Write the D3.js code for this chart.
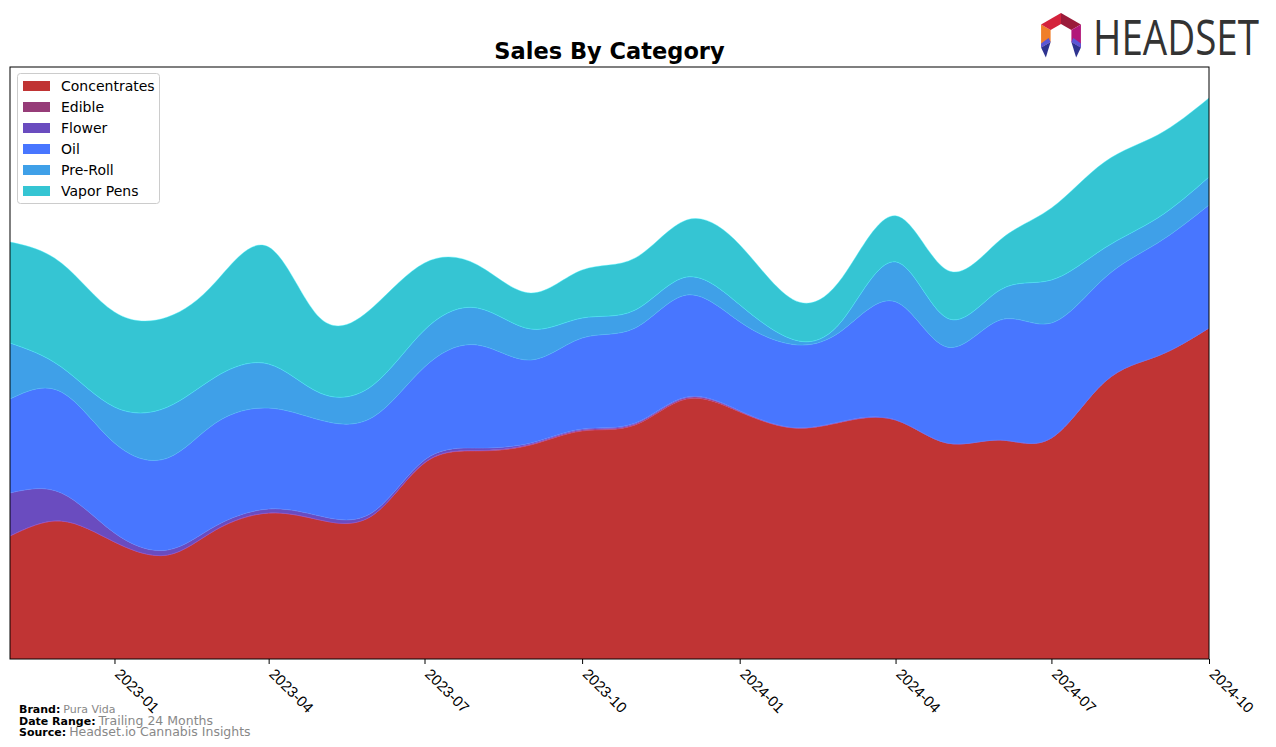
<!DOCTYPE html>
<html><head><meta charset="utf-8">
<script src="https://cdn.jsdelivr.net/npm/d3@7"></script>
<style>body{margin:0;background:#fff;}svg{display:block;font-family:"DejaVu Sans",sans-serif;}</style>
</head><body><svg id="c" width="1276" height="747"></svg>
<script>
const months = ["2022-11","2022-12","2023-01","2023-02","2023-03","2023-04","2023-05","2023-06","2023-07","2023-08","2023-09","2023-10","2023-11","2023-12","2024-01","2024-02","2024-03","2024-04","2024-05","2024-06","2024-07","2024-08","2024-09","2024-10"];
const categories = ["Concentrates","Edible","Flower","Oil","Pre-Roll","Vapor Pens"];
const concentrates = [123,138,117,104,129,146,139,144,196,208,214,228,234,260,247,231,237,239,216,219,221,277,303,331];
const edible = [0,0,0,0,0,0,0,0,0.3,0.5,0.8,1,1,1.2,0.8,0.3,0.5,0,0,0,0,0,0,0];
const flower = [43,28,9,5,4,4,4,3,2.7,2.5,1.2,1,1,0.8,0.5,0.3,0.3,0.2,0,0,0,0,0,0];
const oil = [94,101,90,92,103,101,96,95,93,103,83,91,95,102,89,83,91,118,96,120,115,104,113,123];
const preRoll = [56,25,36,51,46,44,27,32,37,37,31,20,18,18,17,5,10,40,29,30,43,30,25,28];
const vaporPens = [101,104,95,90,95,117,75,78,67,43,36,48,52,57,60,40,43,46,48,50,72,86,83,79];
const tickLabels = ["2023-01","2023-04","2023-07","2023-10","2024-01","2024-04","2024-07","2024-10"];
const colors = ["#c03434","#963c78","#6a4cbf","#4876ff","#3fa0e8","#35c5d3"];

const series = [concentrates, edible, flower, oil, preRoll, vaporPens];
const parse = d3.timeParse("%Y-%m");
const rows = months.map((m,i)=>{const r={date:parse(m)};categories.forEach((c,k)=>r[c]=series[k][i]);return r;});

const svg = d3.select("#c");
const L=10,R=1209,T=67,B=659;
const x = d3.scaleTime().domain([parse(months[0]), parse(months[months.length-1])]).range([L,R]);
const y = d3.scaleLinear().domain([0,592]).range([B,T]);

const stack = d3.stack().keys(categories)(rows);
const area = d3.area().curve(d3.curveNatural)
  .x(d=>x(d.data.date)).y0(d=>y(d[0])).y1(d=>y(d[1]));

const g = svg.append("g");
g.append("clipPath").attr("id","clip").append("rect").attr("x",L).attr("y",T).attr("width",R-L).attr("height",B-T);
g.append("g").attr("clip-path","url(#clip)").selectAll("path").data(stack).join("path")
  .attr("d",area).attr("fill",(d,i)=>colors[i])
  .attr("stroke",(d,i)=>d3.color(colors[i]).brighter(0.6)).attr("stroke-width",0.4);

// frame
svg.append("rect").attr("x",L).attr("y",T).attr("width",R-L).attr("height",B-T)
  .attr("fill","none").attr("stroke","#000").attr("stroke-width",1);

// x axis
const ax = svg.append("g").attr("transform",`translate(0,${B})`)
  .call(d3.axisBottom(x).tickValues(tickLabels.map(parse)).tickFormat(d3.timeFormat("%Y-%m")).tickSizeOuter(0).tickSize(5));
ax.select(".domain").remove();
ax.selectAll("line").attr("stroke","#000");
ax.selectAll("text").attr("font-size","15px").attr("fill","#000")
  .attr("text-anchor","start").attr("dy",null).attr("y",0)
  .attr("transform","translate(7,8) rotate(45)").attr("dominant-baseline","hanging");

// title
svg.append("text").attr("x",(L+R)/2).attr("y",59).attr("text-anchor","middle")
  .attr("font-size","22.5px").attr("font-weight","bold").text("Sales By Category");

// legend
const lg = svg.append("g");
lg.append("rect").attr("x",17.5).attr("y",73.5).attr("width",142).attr("height",130)
  .attr("rx",3).attr("fill","#fff").attr("stroke","#ccc");
categories.forEach((c,i)=>{
  const yy = 86 + i*21;
  lg.append("rect").attr("x",23).attr("y",yy-5).attr("width",27).attr("height",10).attr("fill",colors[i]);
  lg.append("text").attr("x",61).attr("y",yy+5).attr("font-size","14px").text(c);
});

// footer
const ft = [["Brand:","Pura Vida",713,"11px"],["Date Range:","Trailing 24 Months",724.5,"12.5px"],["Source:","Headset.io Cannabis Insights",736,"12.5px"]];
ft.forEach(([a,b,yy,fs])=>{
  const t = svg.append("text").attr("x",19).attr("y",yy).attr("font-size","11px");
  t.append("tspan").attr("font-weight","bold").text(a);
  t.append("tspan").attr("fill","#888").attr("font-size",fs).attr("dx",3).text(b);
});

// logo
const lo = svg.append("g").attr("transform","translate(1061,36)");
const P = k=>{const a=Math.PI/180*(k*60-90);return [Math.cos(a),Math.sin(a)];};
const Ro=23, Ri=12;
const segCols={0:"#9b1b3a",1:"#b2187a",4:"#f07f2a",5:"#d4223c"};
[0,1,4,5].forEach(k=>{
  const p=P(k), q=P(k+1);
  const poly=[[p[0]*Ro,p[1]*Ro],[q[0]*Ro,q[1]*Ro],[q[0]*Ri,q[1]*Ri],[p[0]*Ri,p[1]*Ri]];
  lo.append("polygon").attr("points",poly.map(d=>d.join(",")).join(" ")).attr("fill",segCols[k]);
});
[1,-1].forEach(s=>{
  const p=P(s>0?2:4);
  const ox=p[0]*Ro, oy=p[1]*Ro, ix=p[0]*Ri, iy=p[1]*Ri;
  lo.append("polygon").attr("points",`${ox},${oy} ${ix},${iy} ${(ox+ix)/2},${oy+10}`).attr("fill","#2e338f");
  lo.append("polygon").attr("points",`${ox},${oy} ${ix},${iy} ${ix + (s>0?2:-2)},${iy-4} ${ox},${oy-4}`).attr("fill","#5a56d6");
});
svg.append("text").attr("transform","translate(1093,55) scale(1,1.25)").attr("font-family","'Open Sans', sans-serif")
  .attr("font-size","40px").attr("fill","#333").attr("textLength",166).attr("lengthAdjust","spacingAndGlyphs").text("HEADSET");
</script></body></html>
